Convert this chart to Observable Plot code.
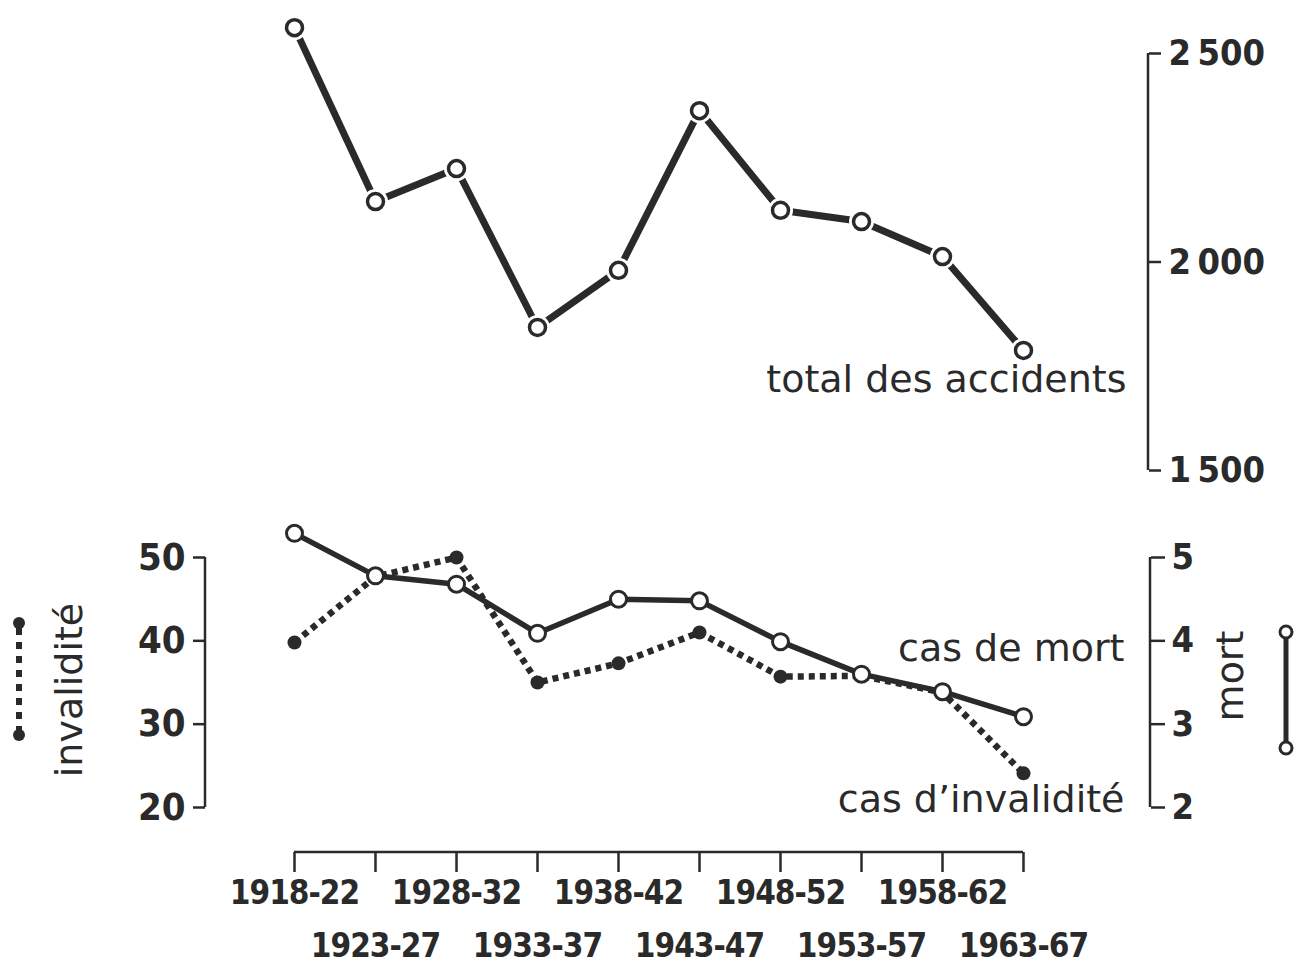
<!DOCTYPE html>
<html><head><meta charset="utf-8">
<script src="https://cdn.jsdelivr.net/npm/d3@7"></script>
<script src="https://cdn.jsdelivr.net/npm/@observablehq/plot@0.6"></script>
<style>
body{margin:0;background:#fff;}
#wrap{position:relative;width:1298px;height:966px;background:#fff;overflow:hidden;}
#wrap svg{position:absolute;left:0;overflow:visible;}
</style></head><body><div id="wrap"></div>
<script>
// ---- data ----
const periods = ["1918-22","1923-27","1928-32","1933-37","1938-42","1943-47","1948-52","1953-57","1958-62","1963-67"];
const totalAccidents = [2562, 2145, 2224, 1843, 1980, 2363, 2124, 2097, 2013, 1788];
const casMort = [5.29, 4.78, 4.68, 4.09, 4.50, 4.48, 3.99, 3.60, 3.39, 3.09];
const casInvalidite = [39.8, 47.7, 50.0, 35.0, 37.3, 41.0, 35.7, 35.8, 33.8, 24.1];
const totalTicks = [1500, 2000, 2500];
const invaliditeTicks = [20, 30, 40, 50];
const mortTicks = [2, 3, 4, 5];
const labelTotal = "total des accidents";
const labelMort = "cas de mort";
const labelInval = "cas d\u2019invalidité";
const axisLabelInval = "invalidité";
const axisLabelMort = "mort";

// ---- build ----
const ink = "#2a2a2a";
const W = 1298;
const numFont = "DejaVu Sans Condensed";
const txtFont = "DejaVu Sans";
const wrap = document.getElementById("wrap");

const topData = periods.map((p, i) => ({period: p, value: totalAccidents[i]}));
const last = topData.length - 1;

const topPlot = Plot.plot({
  width: W, height: 490,
  marginLeft: 0, marginRight: 150, marginTop: 53, marginBottom: 20,
  x: {type: "point", domain: periods, range: [290, 1027], padding: 0, axis: null},
  y: {domain: [1500, 2500], range: [470, 53], axis: null},
  style: {background: "transparent", color: ink, fontFamily: txtFont, overflow: "visible"},
  marks: [
    Plot.line(topData, {x: "period", y: "value", stroke: ink, strokeWidth: 7, strokeLinecap: "butt"}),
    Plot.dot(topData, {x: "period", y: "value", r: 12.5, fill: "white", stroke: null}),
    Plot.dot(topData, {x: "period", y: "value", r: 8, fill: "white", stroke: ink, strokeWidth: 3.5}),
    Plot.axisY(totalTicks, {anchor: "right", tickSize: 12, tickPadding: 8, strokeWidth: 2.5,
      fontSize: 36, fontWeight: "bold", fontFamily: numFont, label: null,
      tickFormat: d => String(d).replace(/(\d)(\d{3})$/, "$1\u2009$2")}),
    Plot.text([topData[last]], {x: "period", y: "value", text: () => labelTotal,
      textAnchor: "end", lineAnchor: "bottom", dx: 103, dy: 42, fontSize: 38, fill: ink})
  ]
});
topPlot.style.top = "0px";
wrap.appendChild(topPlot);
{
  const ys = topPlot.scale("y");
  d3.select(topPlot).append("line")
    .attr("x1", 1148).attr("x2", 1148)
    .attr("y1", ys.apply(1500)).attr("y2", ys.apply(2500))
    .attr("stroke", ink).attr("stroke-width", 2.5);
}

const botTop = 490;
const mortData = periods.map((p, i) => ({period: p, value: casMort[i] * 10}));
const invData = periods.map((p, i) => ({period: p, value: casInvalidite[i]}));
const even = periods.filter((d, i) => i % 2 === 0);
const odd = periods.filter((d, i) => i % 2 === 1);

const botPlot = Plot.plot({
  width: W, height: 476,
  marginLeft: 205, marginRight: 148, marginTop: 67, marginBottom: 114,
  x: {type: "point", domain: periods, range: [290, 1027], padding: 0},
  y: {domain: [20, 50], range: [317, 67]},
  style: {background: "transparent", color: ink, fontFamily: txtFont, overflow: "visible"},
  marks: [
    Plot.line(invData, {x: "period", y: "value", stroke: ink, strokeWidth: 6.5, strokeDasharray: "6,5", strokeLinecap: "butt"}),
    Plot.dot(invData, {x: "period", y: "value", r: 7, fill: ink, stroke: null}),
    Plot.line(mortData, {x: "period", y: "value", stroke: ink, strokeWidth: 5.5}),
    Plot.dot(mortData, {x: "period", y: "value", r: 8, fill: "white", stroke: ink, strokeWidth: 3}),
    Plot.axisY(invaliditeTicks, {anchor: "left", tickSize: 12, tickPadding: 8, strokeWidth: 2.5,
      fontSize: 38, fontWeight: "bold", fontFamily: numFont, label: null}),
    Plot.axisY(mortTicks.map(d => d * 10), {anchor: "right", tickSize: 14, tickPadding: 7, strokeWidth: 2.5,
      fontSize: 36, fontWeight: "bold", fontFamily: numFont, label: null, tickFormat: d => String(d / 10)}),
    Plot.axisX(even, {anchor: "bottom", tickSize: 20, tickPadding: 8, strokeWidth: 2.5,
      fontSize: 33, fontWeight: "bold", fontFamily: numFont, label: null}),
    Plot.axisX(odd, {anchor: "bottom", tickSize: 20, tickPadding: 61, strokeWidth: 2.5,
      fontSize: 33, fontWeight: "bold", fontFamily: numFont, label: null}),
    Plot.text([mortData[last]], {x: "period", y: "value", text: () => labelMort,
      textAnchor: "end", lineAnchor: "bottom", dx: 101, dy: -56, fontSize: 38, fill: ink}),
    Plot.text([invData[last]], {x: "period", y: "value", text: () => labelInval,
      textAnchor: "end", lineAnchor: "bottom", dx: 101, dy: 39, fontSize: 38, fill: ink})
  ]
});
botPlot.style.top = botTop + "px";
wrap.appendChild(botPlot);
{
  const s = d3.select(botPlot);
  const ys = botPlot.scale("y"), xs = botPlot.scale("x");
  s.selectAll('g[aria-label="x-axis tick label"] text').style("letter-spacing", "-1px");
  // axis lines
  s.append("line").attr("x1", 205).attr("x2", 205).attr("y1", ys.apply(20)).attr("y2", ys.apply(50))
    .attr("stroke", ink).attr("stroke-width", 2.5);
  s.append("line").attr("x1", 1150).attr("x2", 1150).attr("y1", ys.apply(20)).attr("y2", ys.apply(50))
    .attr("stroke", ink).attr("stroke-width", 2.5);
  s.append("line").attr("x1", xs.apply(periods[0])).attr("x2", xs.apply(periods[last]))
    .attr("y1", 362).attr("y2", 362).attr("stroke", ink).attr("stroke-width", 2.5);
  // rotated axis titles
  s.append("text").attr("transform", `translate(82,${690 - botTop}) rotate(-90)`)
    .attr("text-anchor", "middle").attr("font-size", 38).attr("font-family", txtFont)
    .attr("fill", ink).text(axisLabelInval);
  s.append("text").attr("transform", `translate(1243,${676 - botTop}) rotate(-90)`)
    .attr("text-anchor", "middle").attr("font-size", 38).attr("font-family", txtFont)
    .attr("fill", ink).text(axisLabelMort);
  // legend glyphs
  const gl = s.append("g");
  gl.append("line").attr("x1", 19).attr("x2", 19).attr("y1", 623 - botTop).attr("y2", 735 - botTop)
    .attr("stroke", ink).attr("stroke-width", 6).attr("stroke-dasharray", "7,7").attr("stroke-dashoffset", -5);
  [623, 735].forEach(y => gl.append("circle").attr("cx", 19).attr("cy", y - botTop).attr("r", 6).attr("fill", ink));
  gl.append("line").attr("x1", 1286).attr("x2", 1286).attr("y1", 632 - botTop).attr("y2", 748 - botTop)
    .attr("stroke", ink).attr("stroke-width", 5);
  [632, 748].forEach(y => gl.append("circle").attr("cx", 1286).attr("cy", y - botTop).attr("r", 6)
    .attr("fill", "white").attr("stroke", ink).attr("stroke-width", 3));
}
</script></body></html>
